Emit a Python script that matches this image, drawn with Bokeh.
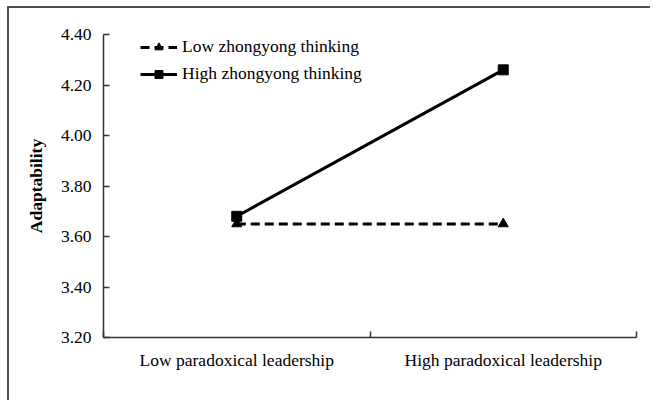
from bokeh.plotting import figure
from bokeh.models import Range1d, FixedTicker, NumeralTickFormatter, Legend, LegendItem
from bokeh.embed import file_html
from bokeh.resources import INLINE

# ---- data ----
categories = ["Low paradoxical leadership", "High paradoxical leadership"]
series_names = ["Low zhongyong thinking", "High zhongyong thinking"]
low_zy = [3.65, 3.65]
high_zy = [3.68, 4.26]
y_ticks = [3.20, 3.40, 3.60, 3.80, 4.00, 4.20, 4.40]
y_label = "Adaptability"

FONT = "Liberation Serif"
FS = "17.5px"

x = [i + 0.5 for i in range(len(categories))]
bounds = list(range(len(categories) + 1))

p = figure(width=643, height=394, output_backend="svg", toolbar_location=None,
           x_range=Range1d(0, len(categories)), y_range=Range1d(y_ticks[0], y_ticks[-1]))
p.min_border_left = 94
p.min_border_right = 16
p.min_border_top = 26
p.min_border_bottom = 65
p.outline_line_color = None
p.xgrid.visible = False
p.ygrid.visible = False
p.background_fill_color = "white"
p.border_fill_color = "white"
p.styles = {"margin-left": "7px", "margin-top": "6px",
            "border-top": "2px solid #505050", "border-left": "2px solid #505050"}

r_low = p.line(x, low_zy, line_color="black", line_width=3, line_dash="9 5")
m_low = p.scatter(x, low_zy, marker="triangle", size=10, color="black")
r_high = p.line(x, high_zy, line_color="black", line_width=3)
m_high = p.scatter(x, high_zy, marker="square", size=10, color="black")

# x axis
xa = p.xaxis[0]
xa.ticker = FixedTicker(ticks=x, minor_ticks=bounds)
xa.major_label_overrides = {xi: c for xi, c in zip(x, categories)}
xa.major_tick_in = 0
xa.major_tick_out = 0
xa.minor_tick_in = 6
xa.minor_tick_out = 0
xa.minor_tick_line_color = "#333333"
xa.minor_tick_line_width = 1.5
xa.axis_line_color = "#333333"
xa.axis_line_width = 1.5
xa.major_label_text_font = FONT
xa.major_label_text_font_size = FS
xa.major_label_text_color = "black"
xa.major_label_standoff = 12

# y axis
ya = p.yaxis[0]
ya.ticker = FixedTicker(ticks=y_ticks)
ya.formatter = NumeralTickFormatter(format="0.00")
ya.major_tick_in = 6
ya.major_tick_out = 0
ya.minor_tick_line_color = None
ya.major_tick_line_color = "#333333"
ya.major_tick_line_width = 1.5
ya.axis_line_color = "#333333"
ya.axis_line_width = 1.5
ya.major_label_text_font = FONT
ya.major_label_text_font_size = FS
ya.major_label_text_color = "black"
ya.major_label_standoff = 12
ya.axis_label = y_label
ya.axis_label_text_font = FONT
ya.axis_label_text_font_size = FS
ya.axis_label_text_font_style = "bold"
ya.axis_label_text_color = "black"
ya.axis_label_standoff = 12

legend = Legend(items=[LegendItem(label=series_names[0], renderers=[r_low, m_low]),
                       LegendItem(label=series_names[1], renderers=[r_high, m_high])],
                location=(37, 253))
legend.padding = 5
legend.spacing = 6
legend.label_height = 20
legend.glyph_height = 20
legend.glyph_width = 37
legend.label_standoff = 5
legend.label_text_font = FONT
legend.label_text_font_size = FS
legend.label_text_color = "black"
legend.background_fill_alpha = 0
legend.border_line_color = None
p.add_layout(legend, "center")

open("out.html", "w").write(file_html(p, INLINE))
